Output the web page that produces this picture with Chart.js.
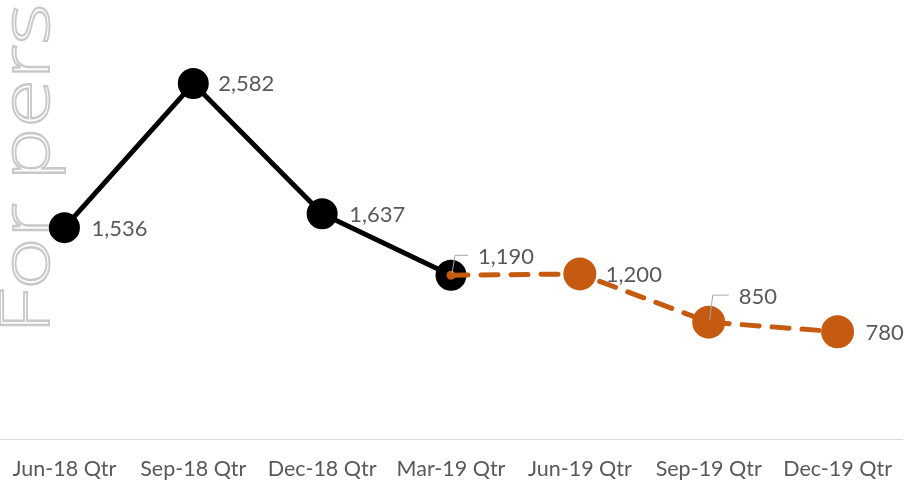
<!DOCTYPE html>
<html>
<head>
<meta charset="utf-8">
<script src="https://cdn.jsdelivr.net/npm/chart.js@4"></script>
<style>
  html, body { margin: 0; padding: 0; background: #fff; }
  #wrap { width: 905px; height: 491px; }
</style>
</head>
<body>
<div id="wrap"><canvas id="qtrChart"></canvas></div>
<script>
const quarters = ['Jun-18 Qtr', 'Sep-18 Qtr', 'Dec-18 Qtr', 'Mar-19 Qtr', 'Jun-19 Qtr', 'Sep-19 Qtr', 'Dec-19 Qtr'];
const actual = [1536, 2582, 1637, 1190, null, null, null];
const forecast = [null, null, null, 1190, 1200, 850, 780];

// label offsets from the point (dx, dy) and whether a leader line is drawn
const labelPos = [[27, 1, 0], [25, 0, 0], [27, 1, 0], [27, -18, 1], [26, 1, 0], [30, -25, 1], [28, 1, 0]];

const fmt = (v) => v.toLocaleString('en-US');

const watermark = {
    id: 'watermark',
    beforeDraw(chart) {
        const ctx = chart.ctx;
        ctx.save();
        ctx.translate(49, 334);
        ctx.rotate(-Math.PI / 2);
        ctx.scale(1.3, 1);
        ctx.font = '300 68px "Open Sans"';
        ctx.textBaseline = 'alphabetic';
        ctx.strokeStyle = '#c9c9c9';
        ctx.lineWidth = 1.9;
        ctx.strokeText('For personal use only', 0, 0);
        ctx.restore();
    }
};

const valueLabels = {
    id: 'valueLabels',
    afterDatasetsDraw(chart) {
        const ctx = chart.ctx;
        const x = chart.scales.x, y = chart.scales.y;
        ctx.save();
        ctx.font = '22px Lato';
        ctx.fillStyle = '#595959';
        ctx.textBaseline = 'middle';
        quarters.forEach((q, i) => {
            const v = forecast[i] != null ? forecast[i] : actual[i];
            const px = x.getPixelForValue(i), py = y.getPixelForValue(v);
            const [dx, dy, leader] = labelPos[i];
            if (leader) {
                ctx.strokeStyle = '#a6a6a6';
                ctx.lineWidth = 1;
                ctx.beginPath();
                ctx.moveTo(px + 1, py - 2);
                ctx.lineTo(px + 4, py + dy - 2);
                ctx.lineTo(px + dx - 10, py + dy - 2);
                ctx.stroke();
            }
            ctx.fillText(fmt(v), px + dx, py + dy);
        });
        ctx.restore();
    }
};

new Chart(document.getElementById('qtrChart'), {
    type: 'line',
    data: {
        labels: quarters,
        datasets: [
            {
                data: actual,
                borderColor: '#000000',
                backgroundColor: '#000000',
                borderWidth: 5,
                pointRadius: 13,
                pointHoverRadius: 13,
                tension: 0,
                order: 2,
            },
            {
                data: forecast,
                borderColor: '#c55a11',
                backgroundColor: '#c55a11',
                borderWidth: 5,
                borderDash: [17, 13],
                borderCapStyle: 'round',
                pointRadius: [0, 0, 0, 2, 14, 14, 14],
                pointHoverRadius: [0, 0, 0, 2, 14, 14, 14],
                tension: 0,
                order: 1,
            },
        ],
    },
    options: {
        responsive: true,
        maintainAspectRatio: false,
        animation: false,
        layout: { autoPadding: false, padding: { top: 26, left: 0, right: 3, bottom: -8 } },
        plugins: { legend: { display: false }, tooltip: { enabled: false } },
        scales: {
            x: {
                offset: true,
                grid: { display: false, drawTicks: false },
                border: { display: true, color: '#d9d9d9', width: 1 },
                ticks: { color: '#595959', font: { family: 'Lato', size: 21.5 }, padding: 17, maxRotation: 0 },
                afterFit(scale) { scale.paddingLeft = 0; scale.paddingRight = 0; },
            },
            y: { display: false, min: 0, max: 3000 },
        },
    },
    plugins: [watermark, valueLabels],
});
</script>
</body>
</html>
